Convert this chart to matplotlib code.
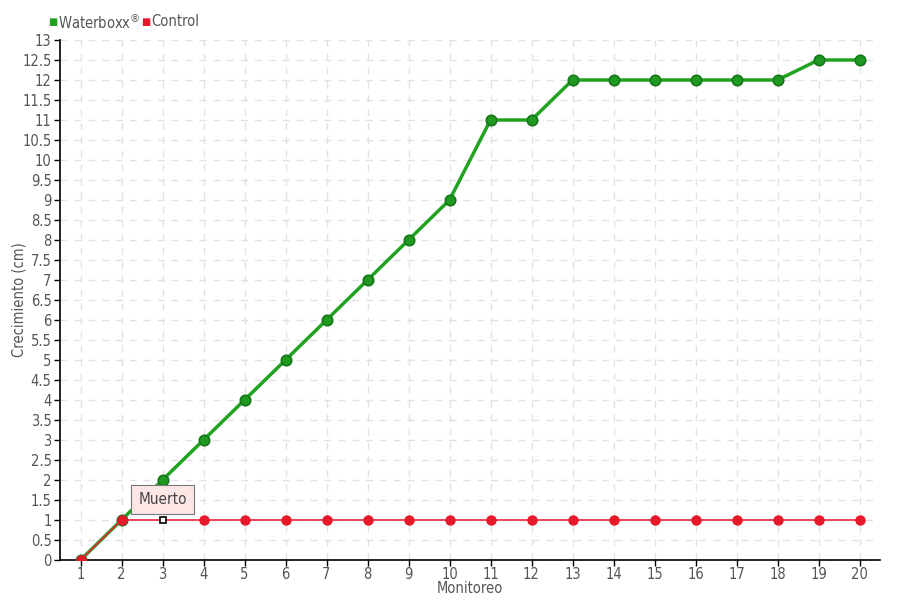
import numpy as np
import matplotlib
matplotlib.use("Agg")
import matplotlib.pyplot as plt

# datos
monitoreo = list(range(1, 21))
waterboxx = [0, 1, 2, 3, 4, 5, 6, 7, 8, 9, 11, 11, 12, 12, 12, 12, 12, 12, 12.5, 12.5]
control = [0, 1, 1, 1, 1, 1, 1, 1, 1, 1, 1, 1, 1, 1, 1, 1, 1, 1, 1, 1]
muerto_x = 3
muerto_y = 1
yticks = np.arange(0, 13.5, 0.5)

plt.rcParams['font.family'] = ['DejaVu Sans']
txt = '#555555'

fig = plt.figure(figsize=(9, 6), dpi=100)
ax = fig.add_axes([60/900, 40/600, 820/900, 520/600])

ax.plot(monitoreo, waterboxx, '-', color='#21a321', lw=2.5, zorder=3)
ax.plot(monitoreo, waterboxx, 'o', color='#1f9a1f', mec='#17761a', mew=1.2, ms=7.5, zorder=4)

ax.plot(monitoreo, control, '-', color='#e8283a', lw=1.2, zorder=5)
cx = [x for x in monitoreo if x != muerto_x]
cy = [y for x, y in zip(monitoreo, control) if x != muerto_x]
ax.plot(cx, cy, 'o', color='#e8182b', mec='#e8182b', ms=6.5, zorder=6)
ax.plot([muerto_x], [muerto_y], 's', color='white', mec='black', mew=1.2, ms=5, zorder=7)

ax.annotate('Muerto', xy=(muerto_x, muerto_y), xytext=(muerto_x, muerto_y + 0.52),
            ha='center', va='center', fontsize=11, color='#444444', fontstretch='condensed',
            bbox=dict(boxstyle='square,pad=0.45', fc='#fde6e6', ec='#777777', lw=0.8),
            arrowprops=dict(arrowstyle='-', color='#777777', lw=0.8, shrinkA=0, shrinkB=4),
            zorder=8)

ax.set_xlim(0.5, 20.5)
ax.set_ylim(0, 13)
ax.set_xticks(monitoreo)
ax.set_yticks(yticks)
ax.set_yticklabels(['%g' % v for v in yticks])
ax.tick_params(axis='both', colors='black', labelcolor=txt, labelsize=10.5, length=4, width=1)
ax.tick_params(axis='x', pad=1)
ax.tick_params(axis='y', pad=2)
for lab in ax.get_xticklabels() + ax.get_yticklabels():
    lab.set_fontstretch('condensed')

ax.grid(True, ls=(0, (5, 5)), color='#e2e2e2', lw=1)
ax.set_axisbelow(True)
for s in ['top', 'right']:
    ax.spines[s].set_visible(False)
ax.spines['left'].set_linewidth(1.2)
ax.spines['bottom'].set_linewidth(1.2)

ax.set_xlabel('Monitoreo', color=txt, fontsize=10.5, fontstretch='condensed')
ax.xaxis.set_label_coords(0.5, -21/520)
ax.set_ylabel('Crecimiento (cm)', color=txt, fontsize=10.5, fontstretch='condensed')
ax.yaxis.set_label_coords(-33/820, 0.5)

# leyenda
fig.text(48/900, 1 - 22/600, '\u25a0', color='#21a321', fontsize=7, va='center')
fig.text(58/900, 1 - 22/600, 'Waterboxx$^{\u00ae}$', color=txt, fontsize=10.5, va='center', fontstretch='condensed')
fig.text(141/900, 1 - 22/600, '\u25a0', color='#e8182b', fontsize=7, va='center')
fig.text(151/900, 1 - 22/600, 'Control', color=txt, fontsize=10.5, va='center', fontstretch='condensed')

plt.savefig('out.png', dpi=100)
